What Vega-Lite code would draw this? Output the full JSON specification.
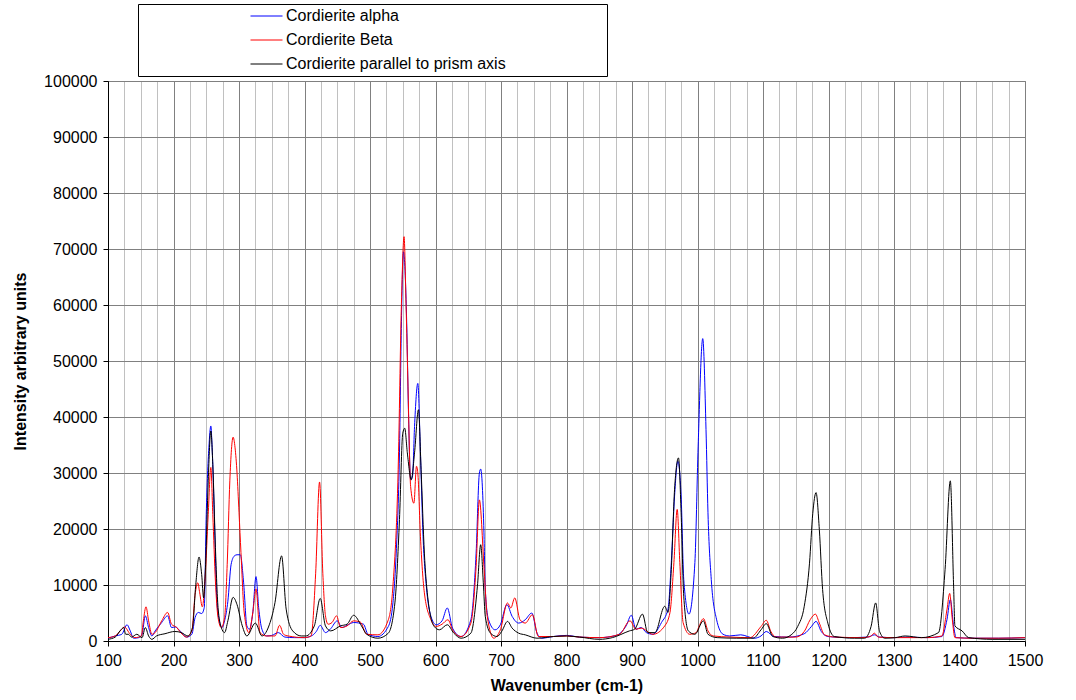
{
  "$schema": "https://vega.github.io/schema/vega-lite/v6.json",
  "width": 917,
  "height": 560,
  "autosize": {"type": "none"},
  "padding": {"left": 108, "top": 81, "right": 51, "bottom": 59},
  "background": "white",
  "config": {
    "font": "Liberation Sans",
    "view": {"stroke": "#808080", "strokeWidth": 1}
  },
  "encoding": {
    "x": {
      "field": "x", "type": "quantitative",
      "scale": {"domain": [100, 1500], "nice": false, "zero": false},
      "axis": {
        "title": "Wavenumber (cm-1)",
        "titleFontSize": 16, "titleFontWeight": "bold", "titleColor": "black", "titlePadding": 9,
        "values": [100,125,150,175,200,225,250,275,300,325,350,375,400,425,450,475,500,525,550,575,600,625,650,675,700,725,750,775,800,825,850,875,900,925,950,975,1000,1025,1050,1075,1100,1125,1150,1175,1200,1225,1250,1275,1300,1325,1350,1375,1400,1425,1450,1475,1500],
        "format": "d",
        "labelExpr": "datum.value % 100 === 0 ? datum.label : ''",
        "labelOverlap": false, "labelFlush": false,
        "labelFontSize": 16, "labelColor": "black", "labelPadding": 6,
        "tickSize": 5,
        "tickColor": {"condition": {"test": "datum.value % 100 === 0", "value": "black"}, "value": "transparent"},
        "domainColor": "black",
        "grid": true,
        "gridColor": {"condition": {"test": "datum.value % 100 === 0", "value": "#808080"}, "value": "#c0c0c0"}
      }
    },
    "y": {
      "field": "y", "type": "quantitative",
      "scale": {"domain": [0, 100000], "nice": false},
      "axis": {
        "title": "Intensity arbitrary units",
        "titleFontSize": 16, "titleFontWeight": "bold", "titleColor": "black", "titlePadding": 15,
        "values": [0,10000,20000,30000,40000,50000,60000,70000,80000,90000,100000],
        "format": "d",
        "labelFontSize": 16, "labelColor": "black", "labelPadding": 6,
        "tickSize": 5, "tickColor": "black",
        "domainColor": "black",
        "grid": true, "gridColor": "#808080"
      }
    }
  },
  "layer": [
    {
      "data": {"values": [
        {"x":100,"y":500},{"x":111,"y":900},{"x":121,"y":1200},{"x":129,"y":2900},{"x":134,"y":1800},{"x":139,"y":500},{"x":147,"y":600},{"x":152,"y":1200},{"x":157,"y":4500},{"x":162,"y":2400},{"x":167,"y":900},{"x":172,"y":1800},{"x":182,"y":3300},{"x":191,"y":4500},{"x":197,"y":2400},{"x":203,"y":2500},{"x":210,"y":1800},{"x":220,"y":700},{"x":228,"y":1200},{"x":233,"y":4200},{"x":238,"y":5100},{"x":243,"y":4900},{"x":247,"y":6000},{"x":250,"y":22600},{"x":254,"y":34500},{"x":257,"y":38400},{"x":259,"y":34500},{"x":263,"y":19600},{"x":266,"y":7700},{"x":270,"y":3600},{"x":274,"y":2400},{"x":278,"y":3600},{"x":283,"y":7100},{"x":288,"y":13700},{"x":293,"y":15200},{"x":297,"y":15400},{"x":302,"y":15400},{"x":307,"y":10500},{"x":312,"y":2700},{"x":316,"y":2100},{"x":321,"y":5000},{"x":326,"y":11500},{"x":330,"y":6000},{"x":335,"y":2100},{"x":342,"y":900},{"x":350,"y":1000},{"x":360,"y":1500},{"x":370,"y":700},{"x":385,"y":600},{"x":400,"y":600},{"x":412,"y":1000},{"x":418,"y":1700},{"x":424,"y":2800},{"x":432,"y":1500},{"x":440,"y":2200},{"x":450,"y":3600},{"x":457,"y":2400},{"x":465,"y":2800},{"x":475,"y":3300},{"x":490,"y":3000},{"x":497,"y":1200},{"x":512,"y":800},{"x":528,"y":2600},{"x":535,"y":6800},{"x":540,"y":15700},{"x":545,"y":33600},{"x":548,"y":57000},{"x":551,"y":69500},{"x":556,"y":57000},{"x":559,"y":39500},{"x":562,"y":28800},{"x":565,"y":29500},{"x":568,"y":38300},{"x":573,"y":46000},{"x":577,"y":33600},{"x":581,"y":18700},{"x":586,"y":9800},{"x":593,"y":4400},{"x":601,"y":2900},{"x":610,"y":3600},{"x":618,"y":5900},{"x":626,"y":2300},{"x":639,"y":800},{"x":654,"y":3800},{"x":662,"y":15700},{"x":667,"y":30000},{"x":669,"y":30700},{"x":674,"y":19300},{"x":676,"y":9200},{"x":681,"y":3800},{"x":691,"y":2000},{"x":699,"y":2900},{"x":709,"y":6500},{"x":717,"y":4400},{"x":727,"y":3200},{"x":737,"y":3800},{"x":747,"y":5000},{"x":755,"y":1400},{"x":762,"y":500},{"x":780,"y":800},{"x":800,"y":1000},{"x":820,"y":700},{"x":850,"y":600},{"x":876,"y":1000},{"x":891,"y":2700},{"x":899,"y":4600},{"x":906,"y":2100},{"x":914,"y":2400},{"x":922,"y":1500},{"x":932,"y":1200},{"x":945,"y":3300},{"x":955,"y":5700},{"x":960,"y":14000},{"x":965,"y":25900},{"x":970,"y":32100},{"x":975,"y":25900},{"x":979,"y":11000},{"x":987,"y":4800},{"x":996,"y":14000},{"x":1001,"y":34800},{"x":1008,"y":54000},{"x":1013,"y":37800},{"x":1016,"y":22900},{"x":1021,"y":11000},{"x":1029,"y":3900},{"x":1039,"y":1200},{"x":1049,"y":900},{"x":1066,"y":1100},{"x":1087,"y":500},{"x":1097,"y":900},{"x":1105,"y":1700},{"x":1117,"y":800},{"x":1140,"y":700},{"x":1163,"y":1300},{"x":1174,"y":2600},{"x":1181,"y":3500},{"x":1189,"y":1700},{"x":1199,"y":800},{"x":1230,"y":600},{"x":1260,"y":700},{"x":1270,"y":1100},{"x":1278,"y":700},{"x":1300,"y":600},{"x":1320,"y":700},{"x":1350,"y":600},{"x":1373,"y":800},{"x":1381,"y":3900},{"x":1386,"y":7400},{"x":1391,"y":2700},{"x":1395,"y":600},{"x":1420,"y":500},{"x":1460,"y":500},{"x":1500,"y":600}
      ]},
      "mark": {"type": "line", "strokeWidth": 1, "interpolate": "monotone"},
      "encoding": {
        "color": {
          "datum": "Cordierite alpha", "type": "nominal",
          "scale": {"domain": ["Cordierite alpha", "Cordierite Beta", "Cordierite parallel to prism axis"], "range": ["#0000ff", "#ff0000", "#000000"]},
          "legend": {
            "orient": "none", "legendX": 30, "legendY": -77,
            "direction": "vertical",
            "title": "\u00a0", "titleOrient": "right", "titlePadding": 97, "titleFontSize": 15,
            "strokeColor": "black", "fillColor": "white", "padding": 4,
            "symbolType": "stroke", "symbolSize": 1024, "symbolStrokeWidth": 1,
            "symbolOffset": 108, "labelOffset": 3,
            "clipHeight": 16, "rowPadding": 8,
            "labelFontSize": 16, "labelColor": "black", "labelLimit": 400
          }
        }
      }
    },
    {
      "data": {"values": [
        {"x":100,"y":600},{"x":111,"y":900},{"x":121,"y":2100},{"x":125,"y":2500},{"x":134,"y":1200},{"x":141,"y":600},{"x":151,"y":900},{"x":154,"y":3600},{"x":158,"y":6100},{"x":162,"y":3600},{"x":167,"y":1200},{"x":172,"y":1500},{"x":182,"y":3600},{"x":191,"y":5100},{"x":197,"y":3000},{"x":205,"y":2400},{"x":211,"y":1500},{"x":220,"y":700},{"x":228,"y":1800},{"x":233,"y":8300},{"x":237,"y":10400},{"x":240,"y":8600},{"x":244,"y":6100},{"x":248,"y":10700},{"x":253,"y":22600},{"x":257,"y":31000},{"x":260,"y":22600},{"x":264,"y":10700},{"x":268,"y":4200},{"x":273,"y":2400},{"x":278,"y":4200},{"x":282,"y":13700},{"x":286,"y":28600},{"x":291,"y":36400},{"x":294,"y":34500},{"x":297,"y":30000},{"x":300,"y":23000},{"x":303,"y":15800},{"x":308,"y":5000},{"x":315,"y":1500},{"x":321,"y":5000},{"x":326,"y":9300},{"x":332,"y":1500},{"x":342,"y":900},{"x":355,"y":900},{"x":362,"y":2800},{"x":368,"y":1200},{"x":375,"y":900},{"x":400,"y":600},{"x":410,"y":900},{"x":417,"y":12000},{"x":423,"y":28400},{"x":428,"y":12000},{"x":432,"y":4500},{"x":436,"y":3000},{"x":442,"y":3300},{"x":449,"y":4500},{"x":455,"y":2400},{"x":465,"y":2700},{"x":475,"y":3600},{"x":485,"y":3400},{"x":495,"y":1200},{"x":512,"y":1100},{"x":528,"y":3800},{"x":535,"y":9800},{"x":543,"y":30600},{"x":548,"y":60300},{"x":552,"y":72200},{"x":555,"y":60300},{"x":558,"y":45500},{"x":562,"y":27600},{"x":567,"y":24600},{"x":571,"y":31200},{"x":573,"y":30000},{"x":577,"y":18700},{"x":583,"y":8600},{"x":593,"y":3800},{"x":601,"y":2600},{"x":610,"y":3000},{"x":619,"y":3800},{"x":626,"y":2000},{"x":639,"y":800},{"x":654,"y":3200},{"x":662,"y":13300},{"x":667,"y":25200},{"x":674,"y":13300},{"x":679,"y":4400},{"x":689,"y":500},{"x":699,"y":2000},{"x":710,"y":6800},{"x":715,"y":5900},{"x":721,"y":7700},{"x":729,"y":3800},{"x":737,"y":3200},{"x":748,"y":4700},{"x":757,"y":800},{"x":780,"y":800},{"x":800,"y":900},{"x":820,"y":700},{"x":850,"y":600},{"x":881,"y":1200},{"x":897,"y":3600},{"x":906,"y":2100},{"x":914,"y":2300},{"x":932,"y":1200},{"x":950,"y":2700},{"x":958,"y":5100},{"x":964,"y":14000},{"x":969,"y":23500},{"x":973,"y":14000},{"x":978,"y":3300},{"x":988,"y":1200},{"x":998,"y":1500},{"x":1003,"y":2800},{"x":1009,"y":4000},{"x":1016,"y":1800},{"x":1024,"y":900},{"x":1050,"y":700},{"x":1080,"y":600},{"x":1097,"y":2600},{"x":1105,"y":3700},{"x":1112,"y":1700},{"x":1120,"y":700},{"x":1150,"y":700},{"x":1163,"y":1700},{"x":1172,"y":3800},{"x":1180,"y":4800},{"x":1186,"y":3200},{"x":1194,"y":1100},{"x":1210,"y":700},{"x":1250,"y":600},{"x":1264,"y":800},{"x":1270,"y":1400},{"x":1276,"y":700},{"x":1300,"y":600},{"x":1350,"y":600},{"x":1373,"y":900},{"x":1381,"y":5700},{"x":1385,"y":8500},{"x":1389,"y":3900},{"x":1393,"y":600},{"x":1420,"y":500},{"x":1460,"y":500},{"x":1500,"y":600}
      ]},
      "mark": {"type": "line", "strokeWidth": 1, "interpolate": "monotone"},
      "encoding": {"color": {"datum": "Cordierite Beta", "type": "nominal"}}
    },
    {
      "data": {"values": [
        {"x":100,"y":300},{"x":111,"y":700},{"x":119,"y":1900},{"x":124,"y":2400},{"x":127,"y":1200},{"x":131,"y":1200},{"x":136,"y":700},{"x":144,"y":1200},{"x":152,"y":600},{"x":157,"y":2400},{"x":162,"y":900},{"x":167,"y":300},{"x":174,"y":900},{"x":187,"y":1300},{"x":202,"y":1700},{"x":212,"y":1500},{"x":222,"y":900},{"x":229,"y":2400},{"x":234,"y":10100},{"x":239,"y":15000},{"x":243,"y":11900},{"x":246,"y":7700},{"x":249,"y":13700},{"x":253,"y":28600},{"x":257,"y":37500},{"x":260,"y":31500},{"x":264,"y":16700},{"x":268,"y":6000},{"x":273,"y":2400},{"x":278,"y":1500},{"x":283,"y":3600},{"x":291,"y":7800},{"x":297,"y":6500},{"x":305,"y":2700},{"x":312,"y":900},{"x":325,"y":3200},{"x":335,"y":900},{"x":345,"y":2500},{"x":355,"y":6900},{"x":365,"y":15200},{"x":372,"y":5700},{"x":382,"y":1800},{"x":395,"y":900},{"x":402,"y":900},{"x":415,"y":2700},{"x":424,"y":7600},{"x":432,"y":2700},{"x":440,"y":1800},{"x":455,"y":2700},{"x":465,"y":3000},{"x":475,"y":4600},{"x":487,"y":2700},{"x":495,"y":1200},{"x":512,"y":500},{"x":528,"y":1400},{"x":538,"y":6800},{"x":545,"y":21700},{"x":550,"y":37100},{"x":553,"y":38000},{"x":557,"y":33600},{"x":563,"y":28800},{"x":568,"y":33600},{"x":574,"y":41300},{"x":578,"y":30600},{"x":583,"y":15700},{"x":588,"y":8000},{"x":598,"y":2600},{"x":606,"y":2000},{"x":618,"y":2900},{"x":628,"y":1400},{"x":639,"y":500},{"x":654,"y":1400},{"x":664,"y":9800},{"x":669,"y":17200},{"x":673,"y":10400},{"x":676,"y":4400},{"x":684,"y":1400},{"x":694,"y":800},{"x":701,"y":1700},{"x":710,"y":3500},{"x":717,"y":2300},{"x":727,"y":1400},{"x":737,"y":1100},{"x":755,"y":500},{"x":780,"y":800},{"x":800,"y":900},{"x":820,"y":700},{"x":850,"y":300},{"x":870,"y":600},{"x":896,"y":1800},{"x":904,"y":2100},{"x":916,"y":4800},{"x":924,"y":1500},{"x":935,"y":1500},{"x":950,"y":6200},{"x":955,"y":5100},{"x":960,"y":12800},{"x":965,"y":27100},{"x":971,"y":32700},{"x":975,"y":22900},{"x":979,"y":8000},{"x":986,"y":1800},{"x":996,"y":1200},{"x":1009,"y":3600},{"x":1016,"y":1200},{"x":1030,"y":600},{"x":1060,"y":500},{"x":1085,"y":500},{"x":1097,"y":2000},{"x":1105,"y":3100},{"x":1115,"y":800},{"x":1130,"y":500},{"x":1143,"y":1100},{"x":1153,"y":2600},{"x":1163,"y":6200},{"x":1171,"y":13900},{"x":1176,"y":22800},{"x":1181,"y":26500},{"x":1186,"y":19900},{"x":1191,"y":9200},{"x":1199,"y":3200},{"x":1209,"y":800},{"x":1240,"y":500},{"x":1255,"y":500},{"x":1265,"y":2600},{"x":1272,"y":6800},{"x":1278,"y":1700},{"x":1286,"y":500},{"x":1302,"y":600},{"x":1317,"y":900},{"x":1342,"y":600},{"x":1368,"y":1500},{"x":1378,"y":12800},{"x":1386,"y":28600},{"x":1391,"y":9800},{"x":1393,"y":2700},{"x":1404,"y":1800},{"x":1414,"y":600},{"x":1450,"y":300},{"x":1500,"y":300}
      ]},
      "mark": {"type": "line", "strokeWidth": 1, "interpolate": "monotone"},
      "encoding": {"color": {"datum": "Cordierite parallel to prism axis", "type": "nominal"}}
    }
  ]
}
